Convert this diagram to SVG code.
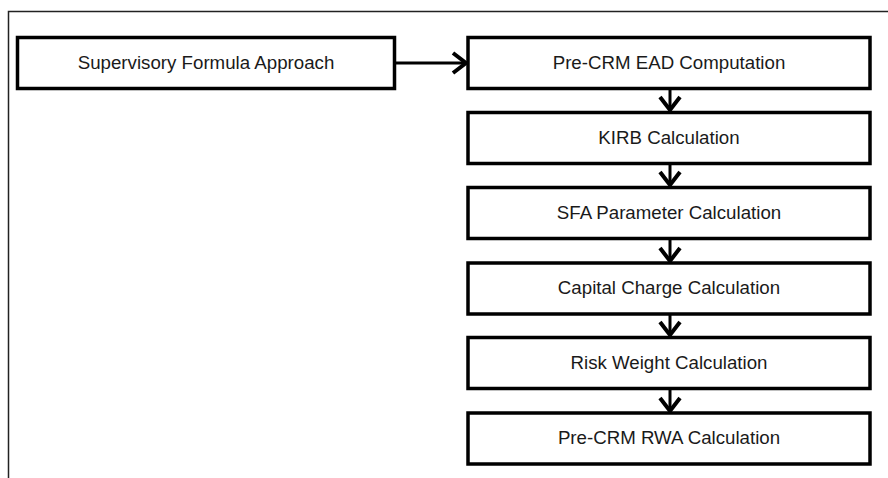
<svg xmlns="http://www.w3.org/2000/svg" width="888" height="478" viewBox="0 0 888 478">
<defs>
<style>
.box{fill:#fff;stroke:#000;stroke-width:3.5}
.lbl{font-family:"Liberation Sans",Arial,sans-serif;font-size:18.7px;fill:#1a1a1a;text-anchor:middle}
.conn{stroke:#000;stroke-width:3;fill:none}
.frame{stroke:#222;stroke-width:1.5;fill:none}
</style>
<marker id="chev" markerUnits="userSpaceOnUse" markerWidth="20" markerHeight="24" viewBox="0 0 20 24" refX="16" refY="12" orient="auto">
<path d="M3,2 L16,12 L3,22" fill="none" stroke="#000" stroke-width="4"/>
</marker>
</defs>
<rect width="888" height="478" fill="#fff"/>
<path class="frame" d="M8.5,478 L8.5,11.5 L888,11.5"/>
<g id="connectors">
<line class="conn" x1="395" y1="63" x2="466" y2="63" marker-end="url(#chev)"/>
<line class="conn" x1="670" y1="89" x2="670" y2="110" marker-end="url(#chev)"/>
<line class="conn" x1="670" y1="164" x2="670" y2="185" marker-end="url(#chev)"/>
<line class="conn" x1="670" y1="239" x2="670" y2="261" marker-end="url(#chev)"/>
<line class="conn" x1="670" y1="315" x2="670" y2="335" marker-end="url(#chev)"/>
<line class="conn" x1="670" y1="388" x2="670" y2="411" marker-end="url(#chev)"/>
</g>
<g id="sfa"><rect class="box" x="17.5" y="37.5" width="377" height="51"/><text class="lbl" x="206" y="69">Supervisory Formula  Approach</text></g>
<g id="ead"><rect class="box" x="468" y="37.5" width="402" height="51"/><text class="lbl" x="669" y="69">Pre-CRM EAD Computation</text></g>
<g id="kirb"><rect class="box" x="468" y="112.5" width="402" height="51"/><text class="lbl" x="669" y="144">KIRB Calculation</text></g>
<g id="param"><rect class="box" x="468" y="187.5" width="402" height="51"/><text class="lbl" x="669" y="219">SFA Parameter Calculation</text></g>
<g id="capital"><rect class="box" x="468" y="263" width="402" height="51"/><text class="lbl" x="669" y="294">Capital Charge Calculation</text></g>
<g id="risk"><rect class="box" x="468" y="337.5" width="402" height="51"/><text class="lbl" x="669" y="369">Risk Weight Calculation</text></g>
<g id="rwa"><rect class="box" x="468" y="413" width="402" height="51"/><text class="lbl" x="669" y="444">Pre-CRM RWA Calculation</text></g>
</svg>
